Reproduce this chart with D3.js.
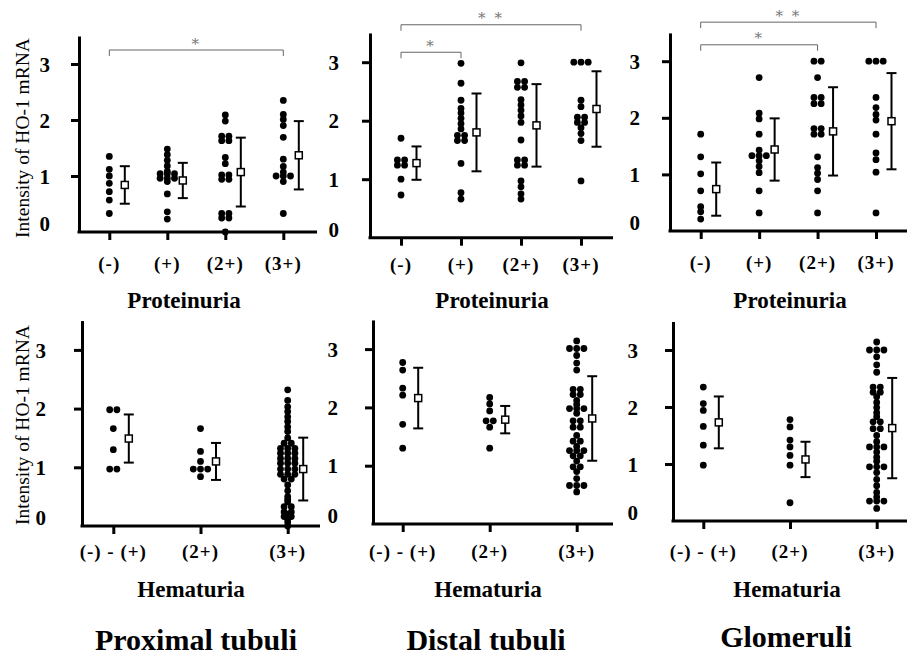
<!DOCTYPE html>
<html><head><meta charset="utf-8">
<script src="https://cdn.jsdelivr.net/npm/d3@7"></script>
<style>
html,body{margin:0;padding:0;background:#fff;}
svg{display:block;font-family:"Liberation Serif","Times New Roman",serif;}
</style></head>
<body><svg id="c" width="907" height="660"></svg>
<script>
// ---------- DATA ----------
const proteinuriaCats = ["(-)", "(+)", "(2+)", "(3+)"];
const hematuriaCats = ["(-) - (+)", "(2+)", "(3+)"];
const yTickValues = [0, 1, 2, 3];
const tissueTitles = ["Proximal tubuli", "Distal tubuli", "Glomeruli"];
const yAxisTitle = "Intensity of HO-1 mRNA";

// Proximal tubuli vs proteinuria
const proxProtValues = [
  [1.35, 1.12, 1.0, 0.87, 0.72, 0.57, 0.33],
  [1.48, 1.38, 1.28, 1.18, 1.08, 1.04, 1.04, 1.04, 0.96, 0.96, 0.96, 0.9, 0.68, 0.36, 0.23],
  [2.09, 1.98, 1.71, 1.71, 1.63, 1.63, 1.33, 1.22, 1.02, 1.02, 0.94, 0.94, 0.33, 0.33, 0.25, 0.25, 0.0],
  [2.35, 2.1, 2.01, 1.9, 1.69, 1.3, 1.17, 1.07, 1.0, 1.0, 1.0, 0.9, 0.33]
];
const proxProtMean = [0.84, 0.92, 1.07, 1.37];
const proxProtSD = [0.335, 0.315, 0.615, 0.61];

// Distal tubuli vs proteinuria
const distProtValues = [
  [1.7, 1.33, 1.33, 1.24, 1.24, 1.0, 0.73],
  [2.98, 2.64, 2.35, 2.21, 2.13, 2.04, 1.95, 1.86, 1.75, 1.75, 1.66, 1.66, 1.27, 0.77, 0.66],
  [2.99, 2.67, 2.67, 2.57, 2.57, 2.36, 2.27, 2.18, 2.08, 1.97, 1.67, 1.33, 1.33, 1.24, 1.24, 0.97, 0.87, 0.75, 0.66],
  [3.0, 3.0, 3.0, 2.35, 2.24, 2.06, 2.06, 1.97, 1.97, 1.88, 1.78, 1.66, 0.97]
];
const distProtMean = [1.275, 1.8, 1.92, 2.2];
const distProtSD = [0.285, 0.665, 0.705, 0.645];

// Glomeruli vs proteinuria
const glomProtValues = [
  [1.71, 1.31, 1.01, 0.71, 0.43, 0.34, 0.21],
  [2.71, 2.08, 1.98, 1.71, 1.43, 1.33, 1.33, 1.33, 1.24, 1.14, 1.03, 0.71, 0.32],
  [3.0, 3.0, 2.71, 2.36, 2.36, 2.25, 2.25, 1.81, 1.81, 1.71, 1.71, 1.31, 1.12, 1.02, 0.91, 0.71, 0.32],
  [3.0, 3.0, 3.0, 2.36, 2.18, 2.06, 1.96, 1.71, 1.38, 1.26, 1.04, 0.32]
];
const glomProtMean = [0.74, 1.44, 1.76, 1.94];
const glomProtSD = [0.47, 0.55, 0.78, 0.85];

// Proximal tubuli vs hematuria
const proxHemValues = [
  [1.98, 1.98, 1.66, 1.3, 0.97, 0.97],
  [1.66, 1.27, 1.1, 0.97, 0.97, 0.97, 0.84],
  [2.32, 2.14, 2.03, 1.95, 1.86, 1.78, 1.69, 1.61, 1.5, 1.41, 1.41, 1.32, 1.32, 1.32, 1.24, 1.24, 1.24,
   1.15, 1.15, 1.15, 1.07, 1.07, 1.07, 0.97, 0.97, 0.97, 0.88, 0.88, 0.88, 0.8, 0.8, 0.7, 0.6, 0.5, 0.45,
   0.41, 0.33, 0.33, 0.24, 0.24, 0.2, 0.16, 0.16, 0.12, 0.07, 0.0]
];
const proxHemMean = [1.49, 1.1, 0.97];
const proxHemSD = [0.41, 0.315, 0.535];

// Distal tubuli vs hematuria
const distHemValues = [
  [2.77, 2.64, 2.33, 2.21, 1.71, 1.3],
  [2.17, 2.06, 1.94, 1.77, 1.77, 1.66, 1.3],
  [3.14, 3.01, 3.01, 3.01, 2.89, 2.76, 2.64, 2.31, 2.31, 2.22, 2.22, 2.12, 2.05, 1.98, 1.98, 1.98, 1.9,
   1.77, 1.77, 1.66, 1.66, 1.52, 1.42, 1.42, 1.33, 1.26, 1.26, 1.26, 1.17, 1.17, 1.08, 0.98, 0.98, 0.9,
   0.78, 0.66, 0.66, 0.66, 0.55]
];
const distHemMean = [2.16, 1.79, 1.81];
const distHemSD = [0.52, 0.235, 0.725];

// Glomeruli vs hematuria
const glomHemValues = [
  [2.35, 2.06, 1.94, 1.66, 1.33, 0.98],
  [1.78, 1.65, 1.42, 1.3, 1.15, 0.98, 0.32],
  [3.14, 3.0, 3.0, 3.0, 2.88, 2.74, 2.61, 2.35, 2.35, 2.26, 2.26, 2.18, 2.08, 1.99, 1.9, 1.83, 1.74, 1.74,
   1.62, 1.62, 1.5, 1.39, 1.3, 1.3, 1.3, 1.21, 1.12, 1.05, 0.95, 0.95, 0.95, 0.85, 0.73, 0.62, 0.5, 0.42,
   0.35, 0.35, 0.35, 0.22]
];
const glomHemMean = [1.73, 1.08, 1.63];
const glomHemSD = [0.455, 0.31, 0.88];

// Significance comparisons
const sigPanel = [0, 1, 1, 2, 2];
const sigFrom = ["(-)", "(-)", "(-)", "(-)", "(-)"];
const sigTo = ["(3+)", "(3+)", "(+)", "(3+)", "(2+)"];
const sigLabel = ["*", "* *", "*", "* *", "*"];
const sigLevel = [3.25, 3.64, 3.17, 3.69, 3.29];

// ---------- LAYOUT ----------
const panels = [
  {cats: proteinuriaCats, values: proxProtValues, mean: proxProtMean, sd: proxProtSD, axisLabel: "Proteinuria",
   axisX: 79, right: 317, y0: 232, unit: 56, range: [109.3, 283.3], labelY: 270, titleX: 184, titleY: 308, yTitleY: 138, pad: 21},
  {cats: proteinuriaCats, values: distProtValues, mean: distProtMean, sd: distProtSD, axisLabel: "Proteinuria",
   axisX: 370, right: 613, y0: 237.7, unit: 58.5, range: [401, 581], labelY: 271, titleX: 492, titleY: 308, pad: 23},
  {cats: proteinuriaCats, values: glomProtValues, mean: glomProtMean, sd: glomProtSD, axisLabel: "Proteinuria",
   axisX: 670, right: 907, y0: 231, unit: 56.6, range: [700.7, 876], labelY: 269, titleX: 790, titleY: 308, pad: 22},
  {cats: hematuriaCats, values: proxHemValues, mean: proxHemMean, sd: proxHemSD, axisLabel: "Hematuria",
   axisX: 82, right: 320, y0: 526, unit: 58.7, range: [113.3, 287.7], labelY: 558, titleX: 191, titleY: 597, yTitleY: 425, pad: 28},
  {cats: hematuriaCats, values: distHemValues, mean: distHemMean, sd: distHemSD, axisLabel: "Hematuria",
   axisX: 373, right: 613, y0: 524, unit: 58.3, range: [402.7, 576.7], labelY: 558, titleX: 488, titleY: 597, pad: 27},
  {cats: hematuriaCats, values: glomHemValues, mean: glomHemMean, sd: glomHemSD, axisLabel: "Hematuria",
   axisX: 673, right: 907, y0: 521, unit: 57, range: [703.3, 876.7], labelY: 558, titleX: 787, titleY: 597, pad: 27}
];
const titleX = [196, 486, 786];
const titleY = [650, 650, 647];

const svg = d3.select("#c");
const dotR = 3.4, dotStep = 7.2, barOffset = 15.5, capHalf = 5, sq = 7;

panels.forEach((p, pi) => {
  const g = svg.append("g");
  const y = d3.scaleLinear().domain([0, 3.5]).range([p.y0, p.y0 - 3.5 * p.unit]);
  const x = d3.scalePoint().domain(p.cats).range(p.range);
  p.x = x; p.y = y;

  const ya = g.append("g").attr("transform", `translate(${p.axisX},0)`)
    .call(d3.axisLeft(y).tickValues(yTickValues).tickSize(8).tickSizeOuter(0).tickPadding(p.pad).tickFormat(d3.format("d")));
  ya.select(".domain").attr("stroke", "#000").attr("stroke-width", 3);
  ya.selectAll(".tick line").attr("stroke", "#000").attr("stroke-width", 3)
    .filter(d => d === 0).remove();
  ya.selectAll(".tick text").attr("font-size", 21).attr("font-weight", "bold")
    .attr("font-family", "Liberation Serif").attr("fill", "#000")
    .attr("dy", d => d === 0 ? "-0.05em" : "0.34em");

  const xa = g.append("g").attr("transform", `translate(0,${p.y0})`)
    .call(d3.axisBottom(x).tickSize(8).tickSizeOuter(0).tickFormat(""));
  xa.select(".domain").remove();
  xa.selectAll(".tick line").attr("stroke", "#000").attr("stroke-width", 3);
  g.append("line").attr("x1", p.axisX - 1.5).attr("x2", p.right)
    .attr("y1", p.y0).attr("y2", p.y0).attr("stroke", "#000").attr("stroke-width", 3);

  g.selectAll("text.xl").data(p.cats).join("text").attr("class", "xl")
    .attr("x", d => x(d)).attr("y", p.labelY).attr("text-anchor", "middle")
    .attr("font-size", 19).attr("font-weight", "bold").attr("letter-spacing", 1)
    .text(d => d);

  g.append("text").attr("x", p.titleX).attr("y", p.titleY).attr("text-anchor", "middle")
    .attr("font-size", 23).attr("font-weight", "bold").text(p.axisLabel);

  if (p.yTitleY !== undefined) {
    g.append("text").attr("transform", `translate(29,${p.yTitleY}) rotate(-90)`)
      .attr("text-anchor", "middle").attr("font-size", 19.5).text(yAxisTitle);
  }

  p.cats.forEach((c, ci) => {
    const rows = d3.groups(p.values[ci], v => v);
    const pts = [];
    rows.forEach(([v, arr]) => {
      arr.forEach((_, i) => pts.push({v, off: (i - (arr.length - 1) / 2) * dotStep}));
    });
    g.selectAll(null).data(pts).join("circle")
      .attr("cx", d => x(c) + d.off).attr("cy", d => y(d.v)).attr("r", dotR).attr("fill", "#000");

    const bx = x(c) + barOffset;
    const m = p.mean[ci], s = p.sd[ci];
    g.append("line").attr("x1", bx).attr("x2", bx).attr("y1", y(m + s)).attr("y2", y(m - s))
      .attr("stroke", "#000").attr("stroke-width", 2);
    [m + s, m - s].forEach(v => g.append("line").attr("x1", bx - capHalf).attr("x2", bx + capHalf)
      .attr("y1", y(v)).attr("y2", y(v)).attr("stroke", "#000").attr("stroke-width", 2));
    g.append("rect").attr("x", bx - sq / 2).attr("y", y(m) - sq / 2).attr("width", sq).attr("height", sq)
      .attr("fill", "#fff").attr("stroke", "#000").attr("stroke-width", 1.5);
  });
});

sigPanel.forEach((pi, k) => {
  const p = panels[pi];
  const x1 = p.x(sigFrom[k]), x2 = p.x(sigTo[k]);
  const yy = p.y(sigLevel[k]);
  svg.append("path").attr("d", `M${x1},${yy + 6}V${yy}H${x2}V${yy + 6}`)
    .attr("fill", "none").attr("stroke", "#666").attr("stroke-width", 1);
  svg.append("text").attr("x", (x1 + x2) / 2).attr("y", yy - 1.5).attr("text-anchor", "middle")
    .attr("font-size", 15).attr("letter-spacing", 2).attr("fill", "#777")
    .style("font-family", "DejaVu Serif").style("-webkit-font-smoothing", "antialiased")
    .text(sigLabel[k]);
});

svg.selectAll("text.tt").data(tissueTitles).join("text").attr("class", "tt")
  .attr("x", (d, i) => titleX[i]).attr("y", (d, i) => titleY[i]).attr("text-anchor", "middle")
  .attr("font-size", 30).attr("font-weight", "bold").text(d => d);
</script></body></html>
